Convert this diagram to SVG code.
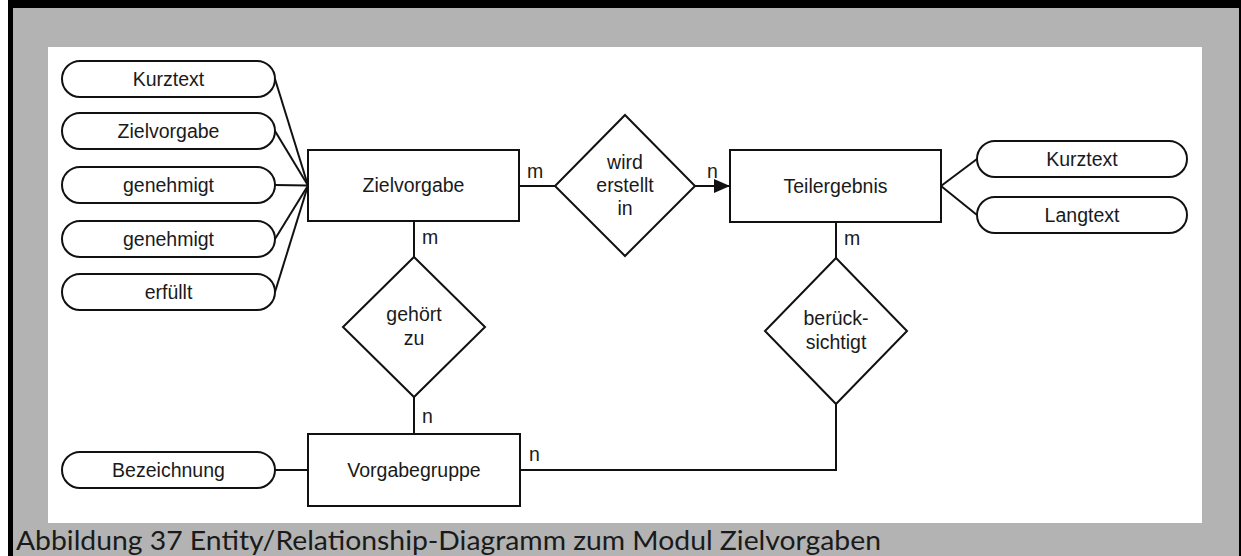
<svg xmlns="http://www.w3.org/2000/svg" width="1241" height="556" viewBox="0 0 1241 556">
  <style>
    .frame { fill: #b3b3b3; }
    .canvas { fill: #ffffff; }
    .shape { fill: #ffffff; stroke: #111111; stroke-width: 2; }
    .link { fill: none; stroke: #111111; stroke-width: 2; }
    .lbl { font-family: "Liberation Sans", Arial, sans-serif; font-size: 19.5px; fill: #1a1a1a; text-anchor: middle; }
    .card { font-family: "Liberation Sans", Arial, sans-serif; font-size: 19.5px; fill: #1a1a1a; }
    .caption { font-family: Lato, "Noto Sans", sans-serif; font-size: 26.5px; fill: #1a1a1a; }
  </style>
  <defs>
    <marker id="arrow" viewBox="0 0 16 14" refX="16" refY="7" markerWidth="16" markerHeight="14" markerUnits="userSpaceOnUse" orient="auto">
      <path d="M0,0 L16,7 L0,14 Z" fill="#111111"/>
    </marker>
  </defs>

  <!-- page frame -->
  <rect x="8" y="0" width="1233" height="556" fill="#000000"/>
  <rect class="frame" x="13" y="8" width="1226" height="548"/>
  <rect class="canvas" x="48" y="47" width="1154" height="476"/>

  <!-- connectors -->
  <g id="connectors">
    <line class="link" x1="275" y1="79" x2="308" y2="185.5"/>
    <line class="link" x1="275" y1="131" x2="308" y2="185.5"/>
    <line class="link" x1="275" y1="185" x2="308" y2="185.5"/>
    <line class="link" x1="275" y1="239" x2="308" y2="185.5"/>
    <line class="link" x1="275" y1="292" x2="308" y2="185.5"/>
    <line class="link" x1="519" y1="186" x2="555" y2="186"/>
    <line class="link" x1="695" y1="186" x2="730" y2="186" marker-end="url(#arrow)"/>
    <line class="link" x1="941" y1="186" x2="977" y2="159"/>
    <line class="link" x1="941" y1="186" x2="977" y2="215"/>
    <line class="link" x1="414" y1="221" x2="414" y2="257"/>
    <line class="link" x1="414" y1="397" x2="414" y2="434"/>
    <line class="link" x1="836" y1="222" x2="836" y2="258"/>
    <polyline class="link" points="520,470 836,470 836,404"/>
    <line class="link" x1="275" y1="470" x2="308" y2="470"/>
    <text class="card" x="527" y="178">m</text>
    <text class="card" x="707" y="178">n</text>
    <text class="card" x="422" y="244">m</text>
    <text class="card" x="844" y="245">m</text>
    <text class="card" x="422" y="423">n</text>
    <text class="card" x="529" y="461">n</text>
  </g>

  <!-- attributes of Zielvorgabe -->
  <g id="attr-kurztext-1">
    <rect class="shape" x="62" y="61" width="213" height="36" rx="18"/>
    <text class="lbl" x="168.5" y="86">Kurztext</text>
  </g>
  <g id="attr-zielvorgabe">
    <rect class="shape" x="62" y="113" width="213" height="36" rx="18"/>
    <text class="lbl" x="168.5" y="138">Zielvorgabe</text>
  </g>
  <g id="attr-genehmigt-1">
    <rect class="shape" x="62" y="167" width="213" height="36" rx="18"/>
    <text class="lbl" x="168.5" y="192">genehmigt</text>
  </g>
  <g id="attr-genehmigt-2">
    <rect class="shape" x="62" y="221" width="213" height="36" rx="18"/>
    <text class="lbl" x="168.5" y="246">genehmigt</text>
  </g>
  <g id="attr-erfuellt">
    <rect class="shape" x="62" y="274" width="213" height="36" rx="18"/>
    <text class="lbl" x="168.5" y="299">erfüllt</text>
  </g>

  <!-- entities -->
  <g id="entity-zielvorgabe">
    <rect class="shape" x="308" y="150" width="211" height="71"/>
    <text class="lbl" x="413.5" y="192">Zielvorgabe</text>
  </g>
  <g id="entity-teilergebnis">
    <rect class="shape" x="730" y="150" width="211" height="72"/>
    <text class="lbl" x="835.5" y="193">Teilergebnis</text>
  </g>
  <g id="entity-vorgabegruppe">
    <rect class="shape" x="308" y="434" width="212" height="72"/>
    <text class="lbl" x="414" y="477">Vorgabegruppe</text>
  </g>

  <!-- relationships -->
  <g id="rel-wird-erstellt-in">
    <polygon class="shape" points="625,115 695,186 625,256 555,186"/>
    <text class="lbl" x="625" y="169">wird</text>
    <text class="lbl" x="625" y="192">erstellt</text>
    <text class="lbl" x="625" y="215">in</text>
  </g>
  <g id="rel-gehoert-zu">
    <polygon class="shape" points="414,257 485,327 414,397 343,327"/>
    <text class="lbl" x="414" y="321">gehört</text>
    <text class="lbl" x="414" y="345">zu</text>
  </g>
  <g id="rel-beruecksichtigt">
    <polygon class="shape" points="836,258 907,331 836,404 765,331"/>
    <text class="lbl" x="836" y="325">berück-</text>
    <text class="lbl" x="836" y="349">sichtigt</text>
  </g>

  <!-- attributes of Teilergebnis -->
  <g id="attr-kurztext-2">
    <rect class="shape" x="977" y="141" width="210" height="36" rx="18"/>
    <text class="lbl" x="1082" y="166">Kurztext</text>
  </g>
  <g id="attr-langtext">
    <rect class="shape" x="977" y="197" width="210" height="36" rx="18"/>
    <text class="lbl" x="1082" y="222">Langtext</text>
  </g>

  <!-- attribute of Vorgabegruppe -->
  <g id="attr-bezeichnung">
    <rect class="shape" x="62" y="452" width="213" height="36" rx="18"/>
    <text class="lbl" x="168.5" y="477">Bezeichnung</text>
  </g>

  <text class="caption" x="16" y="550" textLength="865" lengthAdjust="spacingAndGlyphs">Abbildung 37 Entity/Relationship-Diagramm zum Modul Zielvorgaben</text>
</svg>
